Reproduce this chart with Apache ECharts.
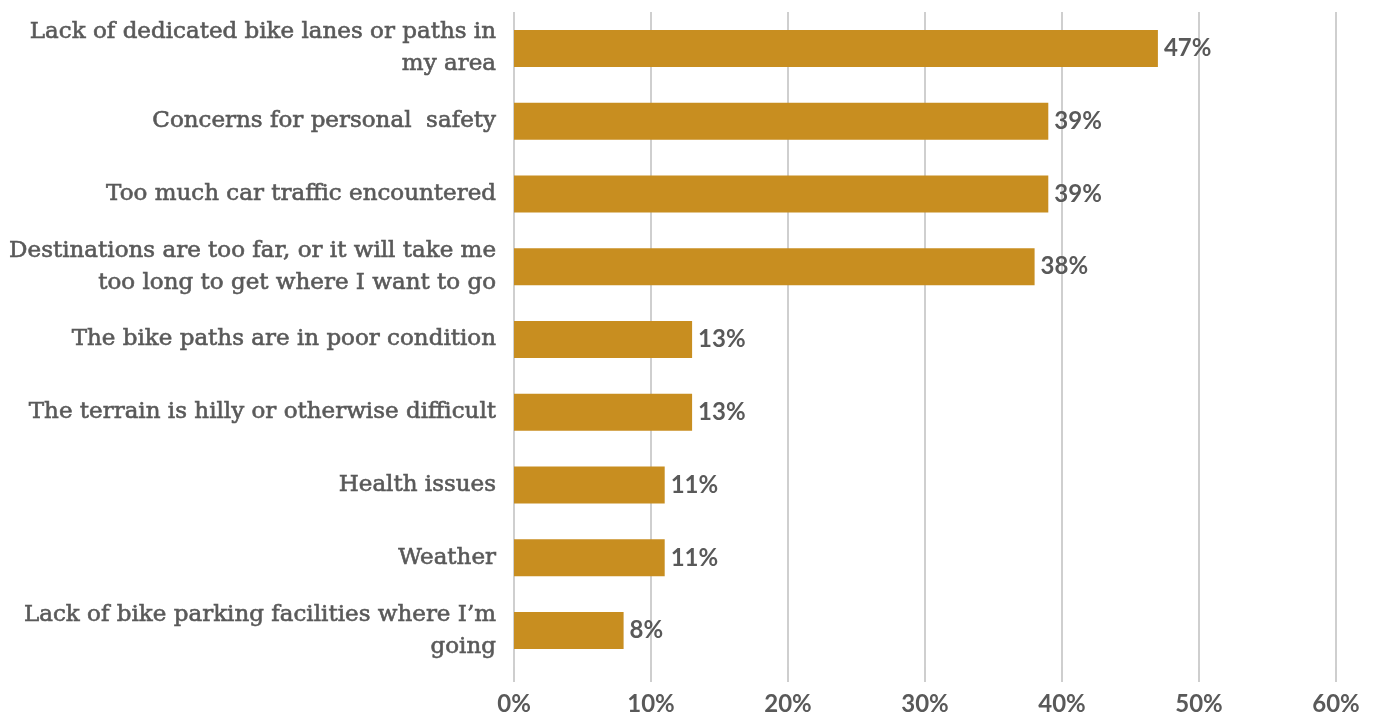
<!DOCTYPE html>
<html>
<head>
<meta charset="utf-8">
<script src="https://cdn.jsdelivr.net/npm/echarts@6/dist/echarts.min.js"></script>
<style>
  html, body { margin: 0; padding: 0; background: #ffffff; }
  #chart { width: 1374px; height: 719px; }
</style>
</head>
<body>
<div id="chart"></div>
<script>
// Reasons that keep people from cycling (share of respondents, %)
const categories = [
  'Lack of dedicated bike lanes or paths in\nmy area',
  'Concerns for personal  safety',
  'Too much car traffic encountered',
  'Destinations are too far, or it will take me\ntoo long to get where I want to go',
  'The bike paths are in poor condition',
  'The terrain is hilly or otherwise difficult',
  'Health issues',
  'Weather',
  'Lack of bike parking facilities where I\u2019m\ngoing'
];
const shares = [47, 39, 39, 38, 13, 13, 11, 11, 8];
const axisMin = 0;
const axisMax = 60;
const axisStep = 10;

const textColor = '#595959';
const gridColor = '#bfbfbf';
const barColor = '#c88e20';

const chart = echarts.init(document.getElementById('chart'), null, { renderer: 'canvas' });
chart.setOption({
  animation: false,
  backgroundColor: '#ffffff',
  grid: { left: 514, right: 38, top: 12, bottom: 52, containLabel: false },
  xAxis: {
    type: 'value',
    min: axisMin,
    max: axisMax,
    interval: axisStep,
    axisLine: { show: false },
    axisTick: { show: true, inside: false, length: 15, lineStyle: { color: gridColor, width: 1.5 } },
    splitLine: { show: true, lineStyle: { color: gridColor, width: 1.5 } },
    axisLabel: {
      formatter: '{value}%',
      color: textColor,
      fontFamily: 'Lato',
      fontWeight: 'bold',
      fontSize: 24,
      margin: 25
    }
  },
  yAxis: {
    type: 'category',
    inverse: true,
    data: categories,
    axisLine: { show: false },
    axisTick: { show: false },
    axisLabel: {
      color: textColor,
      fontFamily: 'DejaVu Serif',
      fontSize: 23,
      lineHeight: 32,
      textBorderColor: textColor,
      textBorderWidth: 0.6,
      align: 'right',
      margin: 18
    }
  },
  series: [{
    type: 'bar',
    data: shares,
    barWidth: 37,
    itemStyle: { color: barColor },
    label: {
      show: true,
      position: 'right',
      distance: 6,
      formatter: '{c}%',
      color: textColor,
      fontFamily: 'Lato',
      fontWeight: 'bold',
      fontSize: 24
    }
  }]
});
</script>
</body>
</html>
